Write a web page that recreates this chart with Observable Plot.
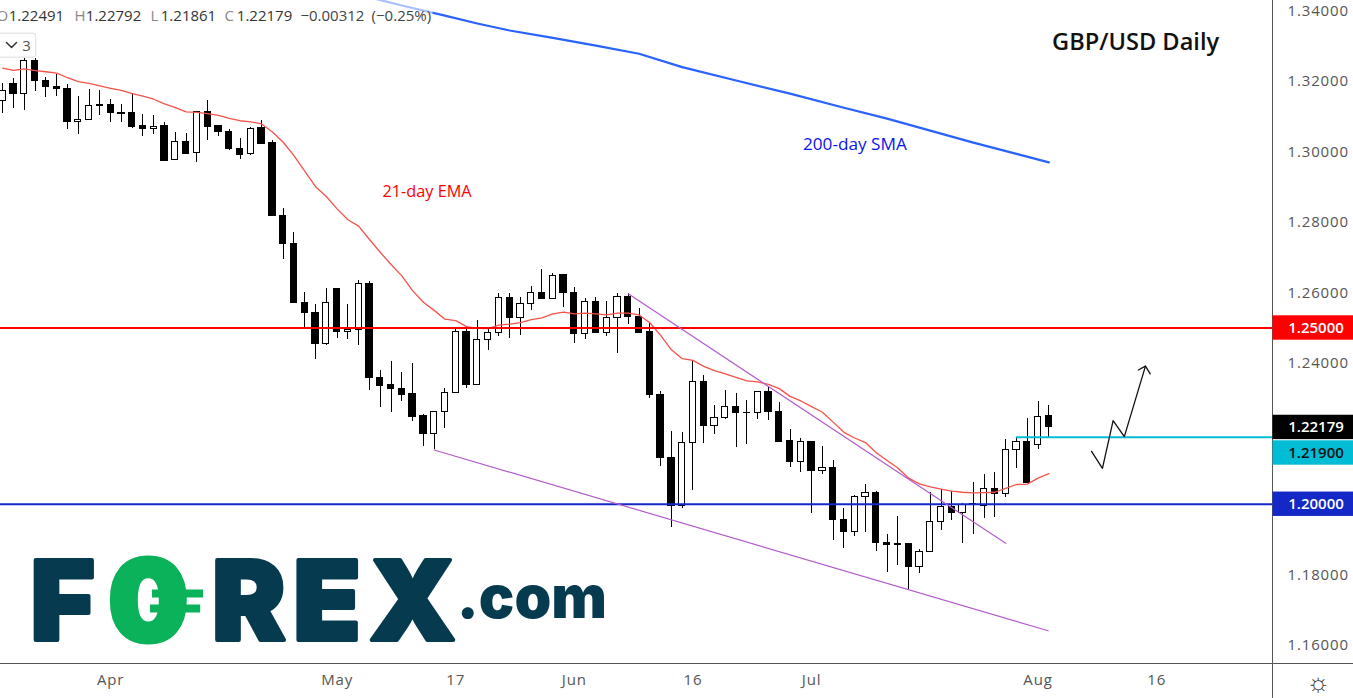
<!DOCTYPE html>
<html>
<head>
<meta charset="utf-8">
<script src="https://cdn.jsdelivr.net/npm/d3@7"></script>
<script src="https://cdn.jsdelivr.net/npm/@observablehq/plot@0.6"></script>
<style>
html,body{margin:0;padding:0;background:#fff;overflow:hidden}
svg{display:block}
g[aria-label="y-axis tick label"] text,g[aria-label="x-axis tick label"] text{letter-spacing:.85px}
g[aria-label="level tags"] text{letter-spacing:1px}
</style>
</head>
<body>
<div id="chart"></div>
<script>
const opens = [1.3145,1.3193,1.3164,1.3258,1.3202,1.3185,1.3178,1.3084,1.3089,1.3133,
1.3134,1.3111,1.3111,1.3072,1.3065,1.3072,1.2977,1.3029,1.2996,1.3113,
1.3072,1.3057,1.3009,1.2993,1.3066,1.3026,1.2819,1.2739,1.2571,1.2543,
1.2455,1.2611,1.2489,1.2495,1.2625,1.2359,1.2337,1.2328,1.2314,1.2249,
1.2200,1.2262,1.2316,1.2490,1.2339,1.2466,1.2486,1.2586,1.2529,1.2569,
1.2600,1.2582,1.2649,1.2600,1.2483,1.2574,1.2486,1.2529,1.2589,1.2532,
1.2490,1.2310,1.2132,1.1995,1.2174,1.2347,1.2222,1.2245,1.2276,1.2260,
1.2259,1.2319,1.2263,1.2180,1.2120,1.2177,1.2095,1.2103,1.1956,1.1921,
1.2021,1.2032,1.1891,1.1888,1.1888,1.1822,1.1865,1.1950,1.1993,1.1976,
1.1998,1.1996,1.2044,1.2028,1.2154,1.2178,1.2167,1.22491];
const closes = [1.3172,1.3163,1.3258,1.3200,1.3183,1.3177,1.3084,1.3091,1.3130,1.3129,
1.3109,1.3108,1.3070,1.3064,1.3071,1.2975,1.3028,1.2995,1.3112,1.3070,
1.3055,1.3007,1.2992,1.3065,1.3022,1.2817,1.2738,1.2570,1.2542,1.2454,
1.2571,1.2488,1.2495,1.2625,1.2357,1.2335,1.2326,1.2311,1.2247,1.2199,
1.2262,1.2316,1.2489,1.2338,1.2466,1.2486,1.2586,1.2528,1.2569,1.2600,
1.2582,1.2648,1.2599,1.2482,1.2574,1.2485,1.2529,1.2588,1.2531,1.2487,
1.2309,1.2130,1.1995,1.2174,1.2347,1.2221,1.2245,1.2276,1.2258,1.2258,
1.2319,1.2261,1.2178,1.2119,1.2177,1.2094,1.2102,1.1955,1.1921,1.2021,
1.2031,1.1889,1.1884,1.1884,1.1821,1.1865,1.1950,1.1993,1.1975,1.1997,
1.2000,1.2043,1.2028,1.2154,1.2177,1.2059,1.2248,1.22179];
const highs = [1.3193,1.3207,1.3264,1.3264,1.3210,1.3219,1.3191,1.3157,1.3178,1.3174,
1.3148,1.3134,1.3164,1.3106,1.3103,1.3083,1.3055,1.3051,1.3114,1.3145,
1.3074,1.3062,1.3037,1.3068,1.3089,1.3032,1.2838,1.2770,1.2600,1.2566,
1.2611,1.2611,1.2566,1.2635,1.2631,1.2379,1.2405,1.2374,1.2399,1.2256,
1.2262,1.2328,1.2495,1.2498,1.2520,1.2502,1.2597,1.2597,1.2587,1.2618,
1.2666,1.2656,1.2651,1.2614,1.2584,1.2586,1.2574,1.2597,1.2597,1.2554,
1.2512,1.2319,1.2205,1.2203,1.2408,1.2364,1.2279,1.2322,1.2313,1.2294,
1.2319,1.2332,1.2288,1.2211,1.2186,1.2177,1.2164,1.2124,1.1987,1.2026,
1.2055,1.2036,1.1914,1.1965,1.1889,1.1873,1.2032,1.2043,1.2035,1.2002,
1.2061,1.2083,1.2090,1.2183,1.2189,1.2243,1.2291,1.22792];
const lows = [1.3109,1.3123,1.3117,1.3172,1.3155,1.3158,1.3064,1.3049,1.3088,1.3103,
1.3084,1.3082,1.3065,1.3043,1.3049,1.2975,1.2977,1.2993,1.2969,1.3032,
1.3043,1.3004,1.2979,1.2990,1.3020,1.2817,1.2695,1.2570,1.2499,1.2411,
1.2451,1.2471,1.2468,1.2451,1.2323,1.2275,1.2261,1.2292,1.2235,1.2165,
1.2154,1.2216,1.2316,1.2329,1.2339,1.2437,1.2477,1.2471,1.2479,1.2550,
1.2582,1.2582,1.2559,1.2457,1.2468,1.2485,1.2477,1.2428,1.2510,1.2485,
1.2301,1.2108,1.1935,1.1989,1.2039,1.2173,1.2199,1.2241,1.2162,1.2170,
1.2241,1.2237,1.2178,1.2105,1.2091,1.1974,1.2085,1.1898,1.1875,1.1909,
1.1921,1.1867,1.1807,1.1827,1.1758,1.1804,1.1865,1.1926,1.1955,1.1889,
1.1915,1.1960,1.1963,1.2020,1.2101,1.2059,1.2156,1.21861];
const ema21 = [1.3237,1.3231,1.3235,1.3230,1.3227,1.3223,1.3210,1.3199,1.3194,1.3187,
1.3180,1.3174,1.3165,1.3158,1.3149,1.3136,1.3125,1.3113,1.3112,1.3108,
1.3103,1.3095,1.3088,1.3085,1.3079,1.3056,1.3027,1.2989,1.2945,1.2901,
1.2873,1.2838,1.2807,1.2789,1.2751,1.2715,1.2680,1.2648,1.2606,1.2573,
1.2550,1.2525,1.2521,1.2504,1.2499,1.2498,1.2508,1.2511,1.2515,1.2524,
1.2529,1.2540,1.2545,1.2540,1.2542,1.2540,1.2537,1.2542,1.2542,1.2537,
1.2515,1.2479,1.2438,1.2413,1.2408,1.2391,1.2379,1.2370,1.2360,1.2350,
1.2347,1.2340,1.2328,1.2306,1.2293,1.2277,1.2261,1.2233,1.2204,1.2188,
1.2175,1.2146,1.2124,1.2103,1.2074,1.2058,1.2049,1.2043,1.2037,1.2034,
1.2032,1.2033,1.2034,1.2045,1.2056,1.2057,1.2074,1.2087];
const smaIndex = [34,37,41,44,47,51,55,59,63,68,73,78,82,86,90,94,97];
const sma200 = [1.3438,1.3415,1.3386,1.3364,1.3344,1.3323,1.3301,1.3278,1.3240,1.3202,1.3165,1.3125,1.3094,1.3060,1.3026,1.2994,1.2970];
const trendUpper = [[58,1.2597],[93,1.1889]];
const trendLower = [[40,1.2154],[96.94,1.1641]];
const forecastPath = [[100.96,1.2150],[101.97,1.2102],[102.96,1.2237],[104,1.2192],[105.96,1.2392]];
const forecastHead = [[105.3,1.2381],[105.96,1.2392],[106.4,1.2370]];
const yTicks = [1.34,1.32,1.30,1.28,1.26,1.24,1.18,1.16];
const xTickIndex = [10,31,42,53,64,75,96,107];
const xTickLabels = ["Apr","May","17","Jun","16","Jul","Aug","16"];
const levelPrices = [1.25,1.22179,1.21454,1.20];
const levelLabels = ["1.25000","1.22179","1.21900","1.20000"];
const levelFills = ["#ff0000","#000000","#00bcd4","#1428c8"];
const levelInk = ["#fff","#fff","#111","#fff"];
const ohlcLetters = ["O","H","L","C"];
const ohlcValues = ["1.22491","1.22792","1.21861","1.22179"];
const ohlcLetterX = [-0.58,6.65,13.7,20.55];
const ohlcValueX = [0.55,7.7,14.65,21.7];
const changeTexts = ["\u22120.00312","(\u22120.25%)"];
const changeX = [27.6,34.2];
const logoLetters = ["F","R","E","X"];
const logoLetterX = [5.55,22.8,30.05,38.0];
const logoBars = [[13.88,18.61,1.1747],[13.7,18.35,1.1704]];

const candles = opens.map((o,i)=>({i,o,c:closes[i],h:highs[i],l:lows[i]}));
const up = candles.filter(d=>d.c>=d.o), down = candles.filter(d=>d.c<d.o);
const xR = 117.74, xE = 125.3, yB = 1.1449;
const FONT = '"Open Sans", sans-serif';
const LOGO = 'Inter, sans-serif';
const body = (data,fill)=>Plot.rect(data,{x1:d=>d.i-0.29,x2:d=>d.i+0.29,y1:d=>Math.min(d.o,d.c),y2:d=>Math.max(d.o,d.c),fill,stroke:"#000",strokeWidth:1,shapeRendering:"crispEdges"});
const levels = levelPrices.map((p,i)=>({p,t:levelLabels[i],f:levelFills[i],k:levelInk[i]}));

const chart = Plot.plot({
  width:1353,height:698,marginLeft:0,marginRight:81,marginTop:0,marginBottom:35,
  style:{fontFamily:FONT,background:"#fff"},
  color:{type:"identity"},
  x:{domain:[-0.2133,xR]},
  y:{domain:[1.15482,1.34291]},
  marks:[
    // pane furniture
    Plot.ruleX([xR],{y1:yB,y2:1.34291,stroke:"#555",strokeWidth:1}),
    Plot.ruleY([1.15482],{x1:-0.3,x2:xE,stroke:"#555",strokeWidth:1}),
    Plot.axisY(yTicks,{anchor:"right",tickSize:0,tickPadding:15,tickFormat:d3.format(".5f"),fontSize:15,fill:"#555",label:null}),
    Plot.axisX(xTickIndex,{anchor:"bottom",tickSize:0,tickPadding:11,tickFormat:d=>xTickLabels[xTickIndex.indexOf(d)],fontSize:15,fill:"#555",label:null}),
    // candles
    Plot.ruleX(candles,{x:"i",y1:"l",y2:"h",stroke:"#000",strokeWidth:1,shapeRendering:"crispEdges"}),
    body(up,"#fff"),
    body(down,"#000"),
    // studies
    Plot.line(ema21,{x:(d,i)=>i,y:d=>d,stroke:"#f5524a",strokeWidth:1.3}),
    Plot.line(sma200,{x:(d,i)=>smaIndex[i],y:d=>d,stroke:"#2962ff",strokeWidth:2.2}),
    // legend veil and chip
    Plot.rect([0],{x1:-0.3,x2:39.9,y1:1.3355,y2:1.34291,fill:"#fff",fillOpacity:0.6}),
    Plot.rect([0],{x1:-2,x2:3.1,y1:1.3267,y2:1.3335,fill:"#fff",stroke:"#ddd",rx:3}),
    Plot.line([[0.34,1.3310],[0.81,1.3296],[1.27,1.3310]],{x:d=>d[0],y:d=>d[1],stroke:"#333",strokeWidth:1.5}),
    Plot.text(["3"],{x:()=>2.2,y:()=>1.3300,fontSize:15,fill:"#555"}),
    // levels
    Plot.ruleY([1.25],{x1:-0.3,x2:xR,stroke:"#ff0000",strokeWidth:2}),
    Plot.ruleY([1.20],{x1:-0.3,x2:xR,stroke:"#1428c8",strokeWidth:2}),
    Plot.ruleY([1.219],{x1:94,x2:xR,stroke:"#00bcd4",strokeWidth:2}),
    // trend lines and forecast
    Plot.line(trendUpper,{x:d=>d[0],y:d=>d[1],stroke:"#b25ccb",strokeWidth:1.2}),
    Plot.line(trendLower,{x:d=>d[0],y:d=>d[1],stroke:"#b25ccb",strokeWidth:1.2}),
    Plot.line(forecastPath,{x:d=>d[0],y:d=>d[1],stroke:"#111",strokeWidth:1.3}),
    Plot.line(forecastHead,{x:d=>d[0],y:d=>d[1],stroke:"#111",strokeWidth:1.3}),
    // level tags
    Plot.rect(levels,{x1:xR+0.05,x2:xE,y1:d=>d.p-0.00346,y2:d=>d.p+0.00346,fill:"f"}),
    Plot.text(levels,{ariaLabel:"level tags",x:()=>119.2,y:"p",text:"t",fill:"k",textAnchor:"start",fontSize:15,fontWeight:600}),
    // header text
    Plot.text(ohlcLetters,{x:(d,i)=>ohlcLetterX[i],y:()=>1.3384,text:d=>d,textAnchor:"start",fontSize:15,fill:"#888"}),
    Plot.text(ohlcValues,{x:(d,i)=>ohlcValueX[i],y:()=>1.3384,text:d=>d,textAnchor:"start",fontSize:15,fill:"#333"}),
    Plot.text(changeTexts,{x:(d,i)=>changeX[i],y:()=>1.3384,text:d=>d,textAnchor:"start",fontSize:15,fill:"#444"}),
    Plot.text(["GBP/USD Daily"],{x:()=>97.3,y:()=>1.3311,textAnchor:"start",fontSize:23.6,fontWeight:600,fill:"#111"}),
    Plot.text(["21-day EMA"],{x:()=>35.2,y:()=>1.2887,textAnchor:"start",fontSize:16.3,fill:"#ff0000"}),
    Plot.text(["200-day SMA"],{x:()=>74.2,y:()=>1.3020,textAnchor:"start",fontSize:17.2,fill:"#0a14f0"}),
    // logo
    Plot.text(logoLetters,{x:(d,i)=>logoLetterX[i],y:()=>1.1715,text:d=>d,fontSize:110,fontWeight:900,fontFamily:LOGO,fill:"#063a4f",stroke:"#063a4f",strokeWidth:4}),
    Plot.text(["0"],{x:()=>13.5,y:()=>1.1715,fontSize:112,fontWeight:900,fontFamily:LOGO,fill:"#0ab25a",stroke:"#0ab25a",strokeWidth:5}),
    Plot.ruleY(logoBars,{x1:d=>d[0],x2:d=>d[1],y:d=>d[2],stroke:"#0ab25a",strokeWidth:8}),
    Plot.text([".com"],{x:()=>42.1,y:()=>1.1676,textAnchor:"start",lineAnchor:"bottom",fontSize:59,fontWeight:900,fontFamily:LOGO,fill:"#063a4f"}),
    // settings glyph
    Plot.text(["\u263C"],{x:()=>122,y:()=>1.1495,fontSize:26,fill:"#333"})
  ]
});
document.getElementById("chart").appendChild(chart);
</script>
</body>
</html>
